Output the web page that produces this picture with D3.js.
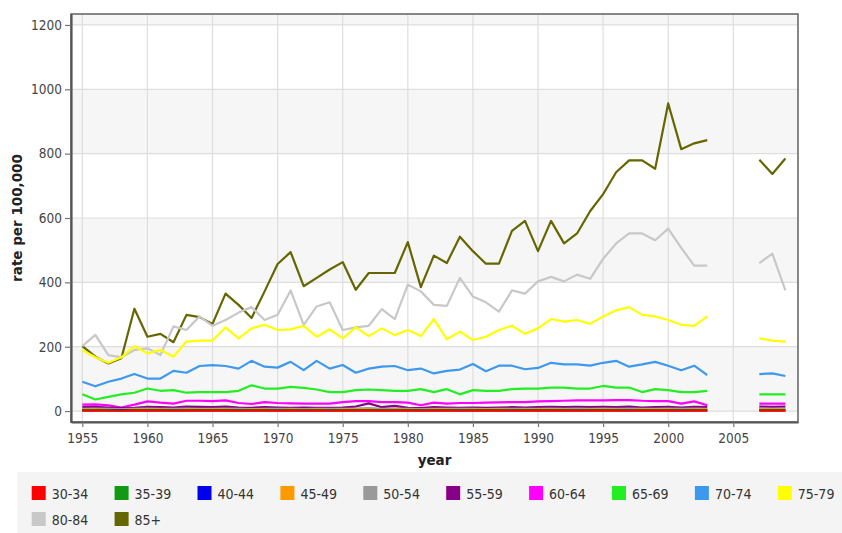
<!DOCTYPE html>
<html>
<head>
<meta charset="utf-8">
<script src="https://cdn.jsdelivr.net/npm/d3@7/dist/d3.min.js"></script>
<style>
  html, body { margin: 0; padding: 0; background: #ffffff; }
  svg { display: block; }
</style>
</head>
<body>
<svg id="chart" width="842" height="533"></svg>
<script>
// Years with recorded rates; 2004-2006 are missing, which leaves a gap.
const years = [
  1955,1956,1957,1958,1959,1960,1961,1962,1963,1964,1965,1966,1967,1968,1969,1970,1971,1972,1973,1974,
  1975,1976,1977,1978,1979,1980,1981,1982,1983,1984,1985,1986,1987,1988,1989,1990,1991,1992,1993,1994,
  1995,1996,1997,1998,1999,2000,2001,2002,2003,2004,2005,2006,2007,2008,2009
];

const ageGroups = ["30-34","35-39","40-44","45-49","50-54","55-59","60-64","65-69","70-74","75-79","80-84","85+"];
const groupColors = ["#ff0000","#119911","#0000ee","#ff9900","#999999","#880088","#ff00ff","#22ee22","#3d99ee","#ffff00","#c8c8c8","#666600"];

const yTicks = [0, 200, 400, 600, 800, 1000, 1200];
const xTicks = [1955, 1960, 1965, 1970, 1975, 1980, 1985, 1990, 1995, 2000, 2005];

// rate per 100,000, one value per year (null = no data)
const r30_34 = [1,1,1,1,1,1,1,1,1,1,1,1,1,1,1,1,1,1,1,1, 1,1,1,1,1,1,1,1,1,1,1,1,1,1,1,1,1,1,1,1, 1,1,1,1,1,1,1,1,1, null,null,null, 1,1,1];
const r35_39 = [2,2,2,1,2,2,2,2,2,2,2,2,2,2,2,2,2,2,2,2, 2,2,2,2,2,2,2,2,2,2,2,2,2,2,2,2,2,2,2,2, 2,2,2,2,2,2,2,2,2, null,null,null, 2,2,2];
const r40_44 = [3,3,3,3,3,3,3,3,3,3,3,3,3,3,3,3,3,3,3,3, 3,3,3,3,3,3,3,3,3,3,3,3,3,3,3,3,3,3,3,3, 3,3,3,3,3,3,3,3,3, null,null,null, 3,3,3];
const r45_49 = [5,5,4,4,5,5,5,4,5,5,5,5,4,5,5,4,5,4,5,4, 5,5,5,4,5,5,4,5,5,4,5,5,5,4,5,5,5,5,4,5, 5,5,4,5,5,5,4,5,5, null,null,null, 5,5,5];
const r50_54 = [7,8,7,6,7,8,7,7,8,7,7,8,7,6,7,7,7,6,7,7, 7,8,9,7,8,7,6,7,7,7,7,6,7,7,7,7,8,7,8,7, 8,7,8,7,7,8,7,8,7, null,null,null, 8,8,8];
const r55_59 = [12,13,11,9,10,13,12,11,14,13,12,14,11,10,12,11,10,11,10,10, 11,14,24,12,16,10,9,12,11,10,11,10,11,12,11,12,13,12,13,12, 13,12,14,11,12,13,11,13,12, null,null,null, 14,13,14];
const r60_64 = [20,21,18,11,20,30,26,23,32,32,31,33,25,22,28,25,24,23,23,23, 28,31,31,28,28,26,18,26,23,25,25,26,27,28,28,30,31,32,33,33, 33,34,34,32,31,31,23,30,18, null,null,null, 23,23,23];
const r65_69 = [52,36,44,52,57,70,63,65,57,59,59,59,63,80,70,70,75,72,67,59, 59,65,67,65,63,63,68,59,68,52,65,63,63,68,70,70,73,73,70,70, 78,73,73,59,68,65,59,59,63, null,null,null, 52,52,52];
const r70_74 = [91,77,91,101,115,101,101,125,119,140,143,140,132,156,138,135,153,127,156,132, 143,119,132,138,140,127,132,117,125,129,146,124,141,141,130,134,150,145,145,141, 150,156,138,145,153,141,127,141,112, null,null,null, 115,117,109];
const r75_79 = [190,167,150,167,202,179,190,169,216,219,219,260,226,257,268,252,254,265,231,254, 226,260,233,257,236,252,233,286,223,247,221,231,252,265,240,257,286,278,283,271, 294,313,323,299,294,283,268,265,294, null,null,null, 226,219,216];
const r80_84 = [202,237,174,167,190,195,174,263,252,294,265,283,306,323,283,299,375,268,325,338, 252,260,265,317,286,393,372,330,327,414,356,338,309,375,365,403,417,403,424,411, 473,521,552,552,531,567,507,452,452, null,null,null, 460,489,375];
const r85_plus = [202,169,148,164,318,231,240,214,299,292,271,365,330,289,372,457,494,388,414,440, 463,377,429,429,429,525,385,483,460,542,497,458,458,560,591,497,591,521,552,621, 674,742,779,779,753,956,814,832,842, null,null,null, 781,737,785];

const seriesValues = [r30_34, r35_39, r40_44, r45_49, r50_54, r55_59, r60_64, r65_69, r70_74, r75_79, r80_84, r85_plus];

// ---- layout ----
const svg = d3.select("#chart");
const plot = { left: 71, top: 14, right: 798, bottom: 422 };

const x = d3.scaleLinear().domain([1954.13, 2009.97]).range([plot.left, plot.right]);
const y = d3.scaleLinear().domain([-34, 1234]).range([plot.bottom, plot.top]);

const tickFont = "'DejaVu Sans Condensed', 'DejaVu Sans', sans-serif";

// alternating background bands between the horizontal gridlines
const bandEdges = yTicks.concat([y.domain()[1]]);
const bands = [];
for (let i = 0; i < bandEdges.length - 1; i += 2) bands.push([bandEdges[i], bandEdges[i + 1]]);
svg.append("g").selectAll("rect").data(bands).join("rect")
  .attr("x", plot.left)
  .attr("width", plot.right - plot.left)
  .attr("y", d => y(d[1]))
  .attr("height", d => y(d[0]) - y(d[1]))
  .attr("fill", "#f6f6f6");

// gridlines
const grid = svg.append("g").attr("stroke", "#dedede").attr("stroke-width", 1.2);
grid.selectAll("line.h").data(yTicks).join("line").attr("class", "h")
  .attr("x1", plot.left).attr("x2", plot.right)
  .attr("y1", d => y(d)).attr("y2", d => y(d));
grid.selectAll("line.v").data(xTicks).join("line").attr("class", "v")
  .attr("y1", plot.top).attr("y2", plot.bottom)
  .attr("x1", d => x(d)).attr("x2", d => x(d));

// series lines: first series painted last so it sits on top
const line = d3.line()
  .defined(d => d.v !== null)
  .x(d => x(d.year))
  .y(d => y(d.v));

const series = ageGroups.map((name, i) => ({
  name,
  color: groupColors[i],
  points: years.map((yr, j) => ({ year: yr, v: seriesValues[i][j] }))
}));

svg.append("g")
  .attr("fill", "none")
  .attr("stroke-width", 2.2)
  .attr("stroke-linejoin", "round")
  .selectAll("path")
  .data(series.slice().reverse())
  .join("path")
  .attr("stroke", d => d.color)
  .attr("d", d => line(d.points));

// frame
svg.append("rect")
  .attr("x", plot.left).attr("y", plot.top)
  .attr("width", plot.right - plot.left).attr("height", plot.bottom - plot.top)
  .attr("fill", "none").attr("stroke", "#6a6a6a").attr("stroke-width", 1.6);

// axes
const yAxis = d3.axisLeft(y).tickValues(yTicks).tickFormat(d3.format("d")).tickSize(6).tickPadding(3).tickSizeOuter(0);
const xAxis = d3.axisBottom(x).tickValues(xTicks).tickFormat(d3.format("d")).tickSize(5).tickPadding(6).tickSizeOuter(0);

const gy = svg.append("g").attr("transform", `translate(${plot.left},0)`).call(yAxis);
const gx = svg.append("g").attr("transform", `translate(0,${plot.bottom})`).call(xAxis);

[gy, gx].forEach(g => {
  g.select(".domain").attr("stroke", "#555").attr("stroke-width", 2.2);
  g.selectAll(".tick line").attr("stroke", "#777").attr("stroke-width", 1.2);
  g.selectAll(".tick text")
    .attr("fill", "#444")
    .style("font-family", tickFont)
    .style("font-size", "13.5px");
});

// axis titles
svg.append("text")
  .attr("transform", `translate(22,${(plot.top + plot.bottom) / 2}) rotate(-90)`)
  .attr("text-anchor", "middle")
  .style("font-family", "'DejaVu Sans', sans-serif")
  .style("font-weight", "bold")
  .style("font-size", "13.5px")
  .attr("fill", "#222")
  .text("rate per 100,000");

svg.append("text")
  .attr("x", (plot.left + plot.right) / 2)
  .attr("y", 465)
  .attr("text-anchor", "middle")
  .style("font-family", "'DejaVu Sans', sans-serif")
  .style("font-weight", "bold")
  .style("font-size", "13.5px")
  .attr("fill", "#222")
  .text("year");

// legend
const legend = svg.append("g");
legend.append("rect")
  .attr("x", 17).attr("y", 472).attr("width", 842 - 17).attr("height", 533 - 472)
  .attr("fill", "#f4f4f4");

const perRow = 10;
const items = legend.selectAll("g.item").data(series).join("g")
  .attr("class", "item")
  .attr("transform", (d, i) => `translate(${31.7 + (i % perRow) * 82.9},${486 + Math.floor(i / perRow) * 26})`);

items.append("rect")
  .attr("width", 14).attr("height", 14)
  .attr("fill", d => d.color);

items.append("text")
  .attr("x", 20).attr("y", 13)
  .style("font-family", tickFont)
  .style("font-size", "14px")
  .attr("fill", "#333")
  .text(d => d.name);
</script>
</body>
</html>
